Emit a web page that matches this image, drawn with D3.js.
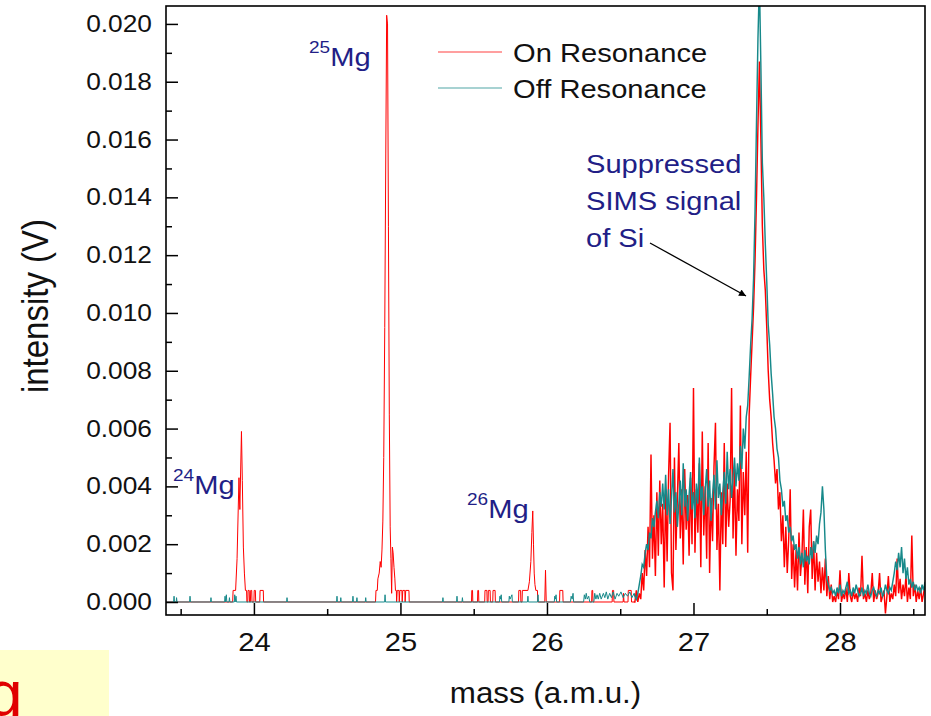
<!DOCTYPE html>
<html>
<head>
<meta charset="utf-8">
<script src="https://cdn.jsdelivr.net/npm/d3@7"></script>
<style>
  body { margin: 0; background: #fff; }
  text { font-family: "Liberation Sans", Arial, sans-serif; }
</style>
</head>
<body>
<script>
// tick values
var xTicks = [24, 25, 26, 27, 28];
var xMinorTicks = [23.5, 24.5, 25.5, 26.5, 27.5, 28.5];
var yTicks = [0, 0.002, 0.004, 0.006, 0.008, 0.010, 0.012, 0.014, 0.016, 0.018, 0.020];
var yMinorTicks = [0.001, 0.003, 0.005, 0.007, 0.009, 0.011, 0.013, 0.015, 0.017, 0.019];

var seriesNames = ["On Resonance", "Off Resonance"];
var peakLabels = ["24", "25", "26"];

// low mass part, [mass (amu), intensity (mV)]
var onLow = [
  [23.40,0],
  [23.855,0],[23.858,0.4],[23.875,0.4],[23.885,1.5],[23.898,4.3],[23.904,3.2],[23.915,5.9],[23.921,4.2],
  [23.928,1.9],[23.935,1.0],[23.942,0.4],[23.950,0.4],[23.952,0],[23.958,0],[23.960,0.4],[23.968,0.4],
  [23.970,0],[23.976,0],[23.978,0.4],[23.985,0.4],[23.987,0],[24.000,0],[24.002,0.4],[24.010,0.4],
  [24.012,0],[24.040,0],[24.042,0.4],[24.064,0.4],[24.066,0],
  [24.830,0],[24.833,0.4],[24.842,0.4],[24.846,0.8],[24.855,1.0],[24.862,1.4],[24.868,1.2],[24.874,1.8],
  [24.880,2.8],[24.886,5.0],[24.893,9.5],[24.900,15.5],[24.906,20.3],[24.912,20.0],[24.918,13.0],
  [24.924,6.5],[24.930,2.6],[24.935,1.5],[24.940,0.3],[24.945,1.9],[24.950,1.7],[24.956,1.2],[24.962,0.8],
  [24.966,0.4],[24.972,0.4],[24.974,0],[24.978,0.4],[24.990,0.4],[24.992,0],[24.996,0.4],[25.010,0.4],
  [25.012,0],[25.016,0.4],[25.030,0.4],[25.032,0],[25.036,0.4],[25.058,0.4],[25.060,0],
  [25.485,0],[25.487,0.4],[25.492,0.4],[25.494,0],[25.526,0],[25.528,0.4],[25.533,0.4],[25.535,0],
  [25.575,0],[25.577,0.4],[25.590,0.4],[25.592,0],[25.598,0],[25.600,0.4],[25.612,0.4],[25.614,0],
  [25.630,0],[25.632,0.4],[25.646,0.4],[25.648,0],[25.806,0],[25.808,0.4],[25.820,0.4],[25.822,0],
  [25.830,0],[25.832,0.4],[25.850,0.4],[25.870,0.4],[25.880,0.7],[25.890,1.4],[25.897,2.4],[25.903,3.15],
  [25.908,2.0],[25.913,1.0],[25.918,0.6],[25.924,0.4],[25.935,0.4],[25.937,0],[25.985,0],[25.990,1.1],
  [25.995,0],[26.086,0],[26.088,0.4],[26.108,0.4],[26.110,0],[26.305,0],[26.307,0.4],[26.312,0.4],
  [26.314,0],[26.445,0],[26.447,0.4],[26.455,0.4],[26.457,0],[26.520,0],[26.522,0.3],[26.526,0],
  [26.553,0],[26.555,0.4],[26.575,0.4],[26.577,0],[26.590,0]
];

var offLow = [
  [23.40,0],[23.452,0],[23.455,0.2],[23.458,0],[23.470,0],[23.472,0.15],[23.475,0],[23.561,0],[23.564,0.2],
  [23.567,0],[23.704,0],[23.707,0.15],[23.710,0],[23.800,0],[23.803,0.2],[23.806,0],[23.812,0.25],[23.815,0],
  [23.830,0],[23.833,0.15],[23.836,0],[23.866,0],[23.869,0.25],[23.872,0],[23.878,0.2],[23.881,0],
  [24.223,0],[24.226,0.15],[24.229,0],[24.564,0],[24.567,0.2],[24.570,0],[24.590,0],[24.593,0.15],[24.596,0],
  [24.673,0],[24.676,0.2],[24.679,0],[24.700,0],[24.703,0.15],[24.706,0],[24.760,0],[24.763,0.15],[24.766,0],
  [24.892,0],[24.895,0.25],[24.898,0],[25.287,0],[25.290,0.15],[25.293,0],[25.383,0],[25.386,0.2],[25.389,0],
  [25.420,0],[25.423,0.15],[25.426,0],[25.676,0],[25.679,0.2],[25.682,0.1],[25.688,0.25],[25.691,0],
  [25.740,0],[25.743,0.2],[25.748,0.1],[25.761,0.25],[25.764,0],[25.867,0],[25.870,0.2],[25.873,0],
  [25.936,0],[25.939,0.25],[25.942,0],[26.050,0],[26.053,0.2],[26.058,0.1],[26.062,0.25],[26.066,0],
  [26.160,0],[26.165,0.2],[26.172,0.1],[26.178,0.3],[26.182,0],[26.250,0],[26.255,0.25],[26.262,0.1],
  [26.268,0.3],[26.275,0.1],[26.285,0.2],[26.292,0],[26.320,0],[26.326,0.3],[26.334,0.1],[26.342,0.25],
  [26.350,0.1],[26.360,0.3],[26.370,0.1],[26.385,0.3],[26.395,0.15],[26.405,0.35],[26.415,0.1],
  [26.428,0.3],[26.440,0.15],[26.452,0.35],[26.465,0.1],[26.478,0.3],[26.490,0.2],[26.505,0.35],
  [26.520,0.15],[26.535,0.3],[26.550,0.2],[26.565,0.35],[26.580,0.15],[26.595,0.3]
];

// Si region, read every 0.01 amu from 26.60 (mV)
var humpStart = 26.60;
var humpStep = 0.01;

var onHump = [
  0.0,0.4,0.0,0.3,0.1,1.0,0.4,1.8,0.9,2.6, 1.2,5.1,1.5,3.0,0.9,3.8,1.6,4.2,2.0,3.4,
  0.5,3.9,1.4,4.4,6.2,1.0,0.4,5.0,1.8,3.6, 5.5,2.2,3.9,1.3,4.6,2.5,3.7,1.6,4.3,2.0,
  7.4,1.7,3.9,2.4,4.8,1.2,5.9,2.3,4.0,1.5, 5.5,1.0,3.6,2.1,4.7,6.2,1.8,3.4,0.4,3.8,
  2.0,5.5,1.9,4.1,2.6,3.5,7.4,2.2,4.6,1.6, 3.9,2.8,6.8,2.0,4.5,3.0,5.2,1.7,6.5,7.8,
  9.0,10.2,11.8,14.0,16.5,18.7,16.0,13.0,11.5,10.8, 9.5,8.0,7.0,6.4,5.5,4.9,4.1,4.6,3.2,3.8,
  2.1,3.0,1.2,2.6,1.0,2.2,3.9,0.8,2.0,0.5, 1.8,0.4,2.4,0.9,1.6,3.2,0.6,1.9,0.3,2.6,
  3.2,0.8,2.1,0.4,1.7,0.7,1.4,0.3,1.2,0.4, 1.5,0.2,0.9,0.1,0.6,0.0,
  0.2,0.0,0.4,0.1,1.1,0.0,0.3,0.1,0.5,0.0, 1.0,0.2,0.0,0.4,0.1,0.3,0.0,0.5,0.2,1.6,
  0.1,0.3,0.0,0.4,0.1,0.3,1.0,0.0,0.4,0.1, 0.3,1.0,0.0,0.2,0.4,-0.4,0.2,0.9,0.0,0.3,
  0.1,0.6,0.2,1.5,0.3,0.8,0.1,0.6,0.2,0.9, 0.0,0.5,0.1,2.3,0.2,0.6,0.0,0.4,0.1,0.5,
  0.0,0.3,0.6
];

var offHump = [
  0.2,0.1,0.3,0.6,0.9,1.3,1.2,1.7,2.0,1.8, 2.4,2.2,2.9,2.6,3.1,3.5,2.9,3.8,3.3,4.1,
  3.2,4.4,3.0,3.9,2.7,3.6,4.6,3.1,3.8,2.6, 3.4,4.2,3.0,4.8,3.3,3.9,2.8,3.7,4.5,3.2,
  3.8,2.9,4.1,3.4,5.0,3.5,4.0,3.0,3.9,4.6, 3.3,4.2,2.8,3.7,4.4,3.2,4.9,3.6,4.1,3.0,
  3.8,4.5,3.4,5.2,3.9,4.6,3.6,4.3,5.0,4.0, 4.8,4.2,5.4,4.6,6.0,5.3,6.4,
  6.8,7.8,8.9,9.8,11.2,13.5,16.6,19.5,21.5,
  18.5,15.2,14.0,12.4,11.1,9.6,8.9,7.9,7.2,6.4, 6.0,5.3,5.0,4.2,3.9,3.3,3.5,2.8,3.0,2.4,
  2.6,2.1,2.3,1.8,2.0,
  1.5,1.9,1.3,1.7,1.2,1.8,1.4,1.6,1.3,1.9, 1.5,2.1,1.7,2.3,2.0,2.7,3.1,4.0,3.2,1.8,
  0.8,0.6,0.4,0.5,0.3,
  0.4,0.2,0.5,0.3,0.6,0.2,0.4,0.3,0.5,0.7, 0.3,0.4,0.2,0.5,0.3,0.6,0.4,0.2,0.3,0.5,
  0.2,0.4,0.3,0.6,0.3,0.2,0.4,0.5,0.3,0.2, 0.4,0.3,0.5,0.2,0.3,0.6,0.4,0.3,0.5,0.4,
  0.7,1.0,1.4,1.1,1.7,1.2,1.9,1.0,1.5,0.8, 1.2,0.6,0.8,0.5,0.7,0.4,0.6,0.4,0.5,0.3,
  0.6,0.4,0.7
];

function humpPoints(low, hump) {
  // last low point keeps the two paths joined
  return [low[low.length - 1]].concat(hump.map(function (v, i) { return [humpStart + i * humpStep, v]; }));
}

var svgWidth = 931;
var svgHeight = 716;
var margin = { top: 6, bottom: 101, left: 166, right: 6 };
var width = svgWidth - margin.left - margin.right;
var height = svgHeight - margin.top - margin.bottom;
var sx = 1.12; // text in the picture is a bit wide
var navy = "#221e86";
var red = "#ff0000";
var teal = "#17898a";

var svg = d3.select("body")
  .append("svg")
  .attr("width", svgWidth)
  .attr("height", svgHeight);

var chartGroup = svg.append("g")
  .attr("transform", "translate(" + margin.left + "," + margin.top + ")");

var xScale = d3.scaleLinear().domain([23.40, 28.58]).range([0, width]);
var yScale = d3.scaleLinear().domain([-0.00045, 0.02062]).range([height, 0]);

chartGroup.append("clipPath").attr("id", "plotclip")
  .append("rect").attr("width", width).attr("height", height);

var line = d3.line()
  .x(d => xScale(d[0]))
  .y(d => yScale(d[1] / 1000));

var traces = [
  { low: onLow, hump: onHump, color: red },
  { low: offLow, hump: offHump, color: teal }
];

traces.forEach(function (t) {
  chartGroup.append("path")
    .datum(t.low)
    .attr("d", line)
    .attr("clip-path", "url(#plotclip)")
    .attr("fill", "none")
    .attr("stroke", t.color)
    .attr("stroke-width", 1);
  chartGroup.append("path")
    .datum(humpPoints(t.low, t.hump))
    .attr("d", line)
    .attr("clip-path", "url(#plotclip)")
    .attr("fill", "none")
    .attr("stroke", t.color)
    .attr("stroke-width", 1.45);
});

// axes, ticks pointing in
function styleAxis(g) {
  g.select(".domain").remove();
  g.selectAll("line").attr("stroke", "#000").attr("stroke-width", 1.5);
  g.attr("font-family", "Liberation Sans, Arial, sans-serif").attr("fill", "#111");
}

chartGroup.append("g")
  .attr("transform", "translate(0," + height + ")")
  .call(d3.axisBottom(xScale).tickValues(xTicks).tickSizeInner(-12).tickSizeOuter(0).tickPadding(18).tickFormat(d3.format("d")))
  .call(styleAxis)
  .attr("font-size", 26)
  .selectAll("text").attr("transform", "scale(" + sx + ",1)").attr("fill", "#111");

chartGroup.append("g")
  .attr("transform", "translate(0," + height + ")")
  .call(d3.axisBottom(xScale).tickValues(xMinorTicks).tickSizeInner(-6).tickSizeOuter(0).tickFormat(""))
  .call(styleAxis);

chartGroup.append("g")
  .call(d3.axisLeft(yScale).tickValues(yTicks).tickSizeInner(-12).tickSizeOuter(0).tickPadding(14).tickFormat(d3.format(".3f")))
  .call(styleAxis)
  .attr("font-size", 23.5)
  .selectAll("text").attr("x", -14 / sx).attr("transform", "scale(" + sx + ",1)").attr("fill", "#111");

chartGroup.append("g")
  .call(d3.axisLeft(yScale).tickValues(yMinorTicks).tickSizeInner(-6).tickSizeOuter(0).tickFormat(""))
  .call(styleAxis);

chartGroup.append("rect")
  .attr("width", width)
  .attr("height", height)
  .attr("fill", "none")
  .attr("stroke", "#000")
  .attr("stroke-width", 1.6);

// axis titles
svg.append("text")
  .attr("transform", "translate(" + (margin.left + width / 2) + ",703) scale(1.08,1)")
  .style("text-anchor", "middle")
  .attr("font-size", "29px")
  .attr("fill", "#111")
  .text("mass (a.m.u.)");

svg.append("text")
  .attr("transform", "translate(48,306) scale(" + sx + ",1) rotate(-90)")
  .style("text-anchor", "middle")
  .attr("font-size", "33px")
  .attr("fill", "#111")
  .text("intensity (V)");

// legend
var legend = svg.append("g");
[red, teal].forEach(function (c, i) {
  legend.append("line")
    .attr("x1", 438).attr("x2", 502)
    .attr("y1", 52 + i * 36).attr("y2", 52 + i * 36)
    .attr("stroke", c).attr("stroke-width", 1.2)
    .attr("opacity", 0.75);
  legend.append("text")
    .attr("transform", "translate(513," + (62 + i * 36) + ") scale(" + sx + ",1)")
    .attr("font-size", "26px")
    .attr("fill", "#111")
    .text(seriesNames[i]);
});

// isotope labels
var labelPos = [[173, 494], [309, 66], [467, 518]];
peakLabels.forEach(function (iso, i) {
  var t = svg.append("text")
    .attr("transform", "translate(" + labelPos[i][0] + "," + labelPos[i][1] + ") scale(" + sx + ",1)")
    .attr("fill", navy);
  t.append("tspan").attr("font-size", "17px").attr("dy", -13).text(iso);
  t.append("tspan").attr("font-size", "26px").attr("dy", 13).text("Mg");
});

// annotation
["Suppressed", "SIMS signal", "of Si"].forEach(function (s, i) {
  svg.append("text")
    .attr("transform", "translate(586," + (173 + i * 37) + ") scale(" + sx + ",1)")
    .attr("font-size", "26px")
    .attr("fill", navy)
    .text(s);
});

svg.append("defs").append("marker")
  .attr("id", "arrow")
  .attr("viewBox", "0 0 10 10")
  .attr("refX", 10).attr("refY", 5)
  .attr("markerWidth", 10).attr("markerHeight", 7)
  .attr("markerUnits", "userSpaceOnUse")
  .attr("orient", "auto")
  .append("path").attr("d", "M0,0L10,5L0,10z").attr("fill", "#000");

svg.append("line")
  .attr("x1", 650).attr("y1", 243)
  .attr("x2", 746).attr("y2", 296)
  .attr("stroke", "#000").attr("stroke-width", 1.3)
  .attr("marker-end", "url(#arrow)");

// bit of the next slide element in the corner
svg.append("rect")
  .attr("x", 0).attr("y", 650).attr("width", 109).attr("height", 66)
  .attr("fill", "#ffffcc");
svg.append("text")
  .attr("x", -13).attr("y", 716)
  .attr("font-size", "64px")
  .attr("fill", "#e00000")
  .text("g");
</script>
</body>
</html>
